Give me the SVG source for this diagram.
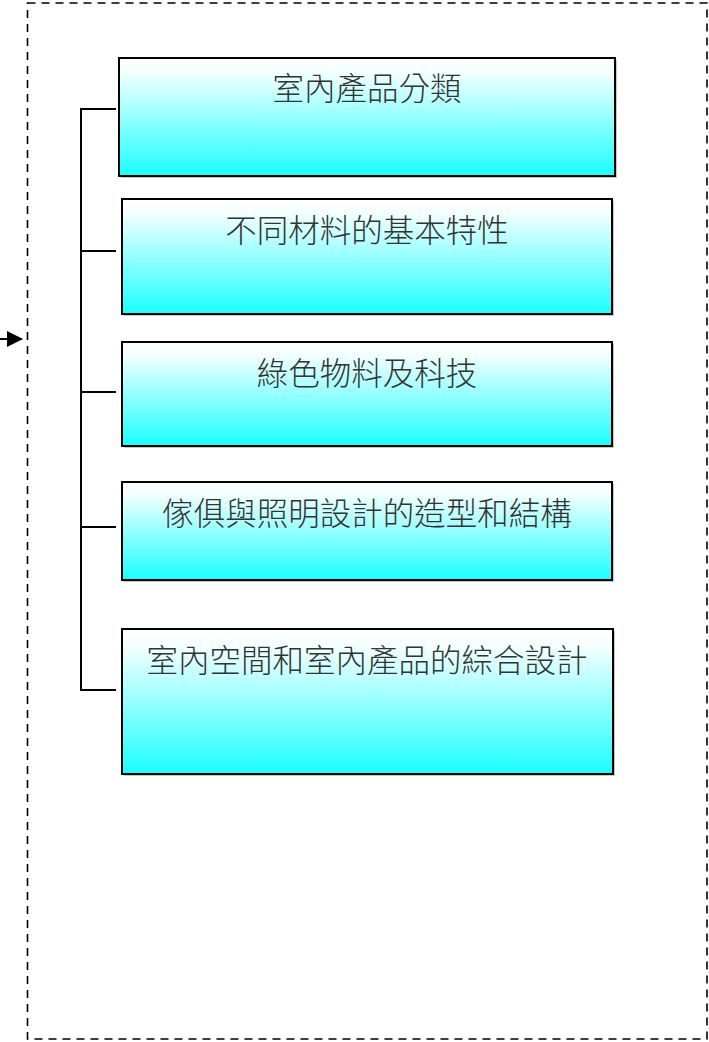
<svg xmlns="http://www.w3.org/2000/svg" width="709" height="1042" viewBox="0 0 709 1042">
<style>
.box{fill:url(#g);stroke:#000;stroke-width:2}
.shadow{fill:#c8c8c8}
.lbl{font-family:"Noto Sans CJK TC","Noto Sans CJK SC",sans-serif;font-size:31.5px;font-weight:300;fill:#333;text-anchor:middle}
.conn{fill:none;stroke:#000;stroke-width:2}
.frame{fill:none;stroke:#000;stroke-width:1.6;stroke-dasharray:8,6}
</style>
<defs>
<linearGradient id="g" x1="0" y1="0" x2="0" y2="1">
<stop offset="0" stop-color="#ffffff"/>
<stop offset="0.12" stop-color="#f4ffff"/>
<stop offset="1" stop-color="#1affff"/>
</linearGradient>
<marker id="arr" markerWidth="16" markerHeight="16" refX="15" refY="8" orient="auto" markerUnits="userSpaceOnUse">
<path d="M0,0 L16,8 L0,16 Z" fill="#000"/>
</marker>
</defs>
<rect id="frame" class="frame" x="27.5" y="3" width="679.5" height="1036"/>
<g id="connectors">
<line class="conn" x1="0" y1="339" x2="22" y2="339" marker-end="url(#arr)"/>
<path class="conn" d="M116,109 H81 V690 H116"/>
<line class="conn" x1="81" y1="251" x2="116" y2="251"/>
<line class="conn" x1="81" y1="392" x2="116" y2="392"/>
<line class="conn" x1="81" y1="527" x2="116" y2="527"/>
</g>
<g id="n1">
<rect class="shadow" x="121" y="60" width="496" height="118"/>
<rect class="box" x="119" y="58" width="496" height="118"/>
<text class="lbl" x="367" y="100">室內產品分類</text>
</g>
<g id="n2">
<rect class="shadow" x="124" y="201" width="490" height="115"/>
<rect class="box" x="122" y="199" width="490" height="115"/>
<text class="lbl" x="367" y="242">不同材料的基本特性</text>
</g>
<g id="n3">
<rect class="shadow" x="124" y="344" width="490" height="104"/>
<rect class="box" x="122" y="342" width="490" height="104"/>
<text class="lbl" x="367" y="385">綠色物料及科技</text>
</g>
<g id="n4">
<rect class="shadow" x="124" y="484" width="490" height="98"/>
<rect class="box" x="122" y="482" width="490" height="98"/>
<text class="lbl" x="367" y="525">傢俱與照明設計的造型和結構</text>
</g>
<g id="n5">
<rect class="shadow" x="124" y="631" width="491" height="145"/>
<rect class="box" x="122" y="629" width="491" height="145"/>
<text class="lbl" x="367" y="672">室內空間和室內產品的綜合設計</text>
</g>
</svg>
